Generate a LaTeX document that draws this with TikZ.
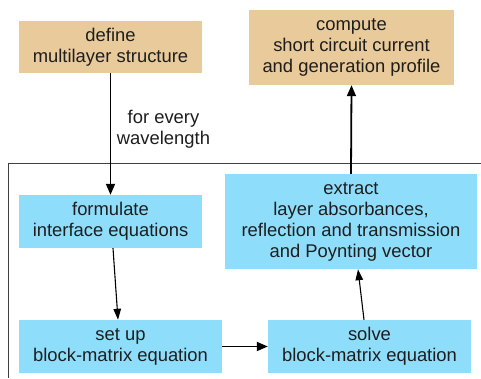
\documentclass[tikz,border=0pt]{standalone}
\usepackage{fontspec}
\setmainfont{Liberation Sans}
\usetikzlibrary{arrows.meta}
\definecolor{tanbox}{HTML}{E9CA9A}
\definecolor{bluebox}{HTML}{8EDEFB}
\definecolor{txt}{HTML}{1E1E1E}
\tikzset{
  x=1pt, y=1pt,
  boxbase/.style={inner sep=0pt, align=center, text=txt,
    font=\fontsize{18.4}{21}\selectfont},
  tanstyle/.style={boxbase, fill=tanbox},
  bluestyle/.style={boxbase, fill=bluebox},
  thickarrow/.style={line width=1.8pt, -{Triangle[length=11pt,width=9pt]}},
  thinarrow/.style={line width=1.1pt, -{Triangle[length=11pt,width=7.5pt]}},
  framestyle/.style={line width=1pt, draw=black!75},
  lbl/.style={inner sep=0pt, align=center, text=txt, font=\fontsize{18.4}{21}\selectfont}
}
\begin{document}
\begin{tikzpicture}
\useasboundingbox (0,0) rectangle (481,-378);
\fill[white] (0,0) rectangle (481,-378);
% frame
\coordinate (fb) at (8,-378);
\coordinate (fc) at (8,-163);
\coordinate (fr) at (481,-163);
\draw[framestyle] (fb) -- (fc) -- (fr);
% nodes
\node[tanstyle, minimum width=183, minimum height=52] (define) at (110.5,-47) {define\\multilayer structure};
\node[tanstyle, minimum width=205, minimum height=75] (compute) at (351.5,-47.5) {compute\\short circuit current\\and generation profile};
\node[bluestyle, minimum width=183, minimum height=53] (formulate) at (110.5,-221.5) {formulate\\interface equations};
\node[bluestyle, minimum width=203, minimum height=53] (setup) at (120.5,-346.5) {set up\\block-matrix equation};
\node[bluestyle, minimum width=252, minimum height=95] (extract) at (351,-221.5) {extract\\layer absorbances,\\reflection and transmission\\and Poynting vector};
\node[bluestyle, minimum width=203, minimum height=53] (solve) at (369.5,-346.5) {solve\\block-matrix equation};
\node[lbl] (wl) at (163.5,-129.5) {for every\\wavelength};
% connectors
\draw[thickarrow] (define.south) -- (formulate.north);
\draw[thinarrow] ([xshift=2.5]formulate.south) -- ([xshift=-2.5]setup.north);
\draw[thickarrow] (setup.east) -- (solve.west);
\draw[thinarrow] ([xshift=-5.5]solve.north) -- ([xshift=7]extract.south);
\draw[thickarrow] (extract.north) -- (compute.south);
\end{tikzpicture}
\end{document}
